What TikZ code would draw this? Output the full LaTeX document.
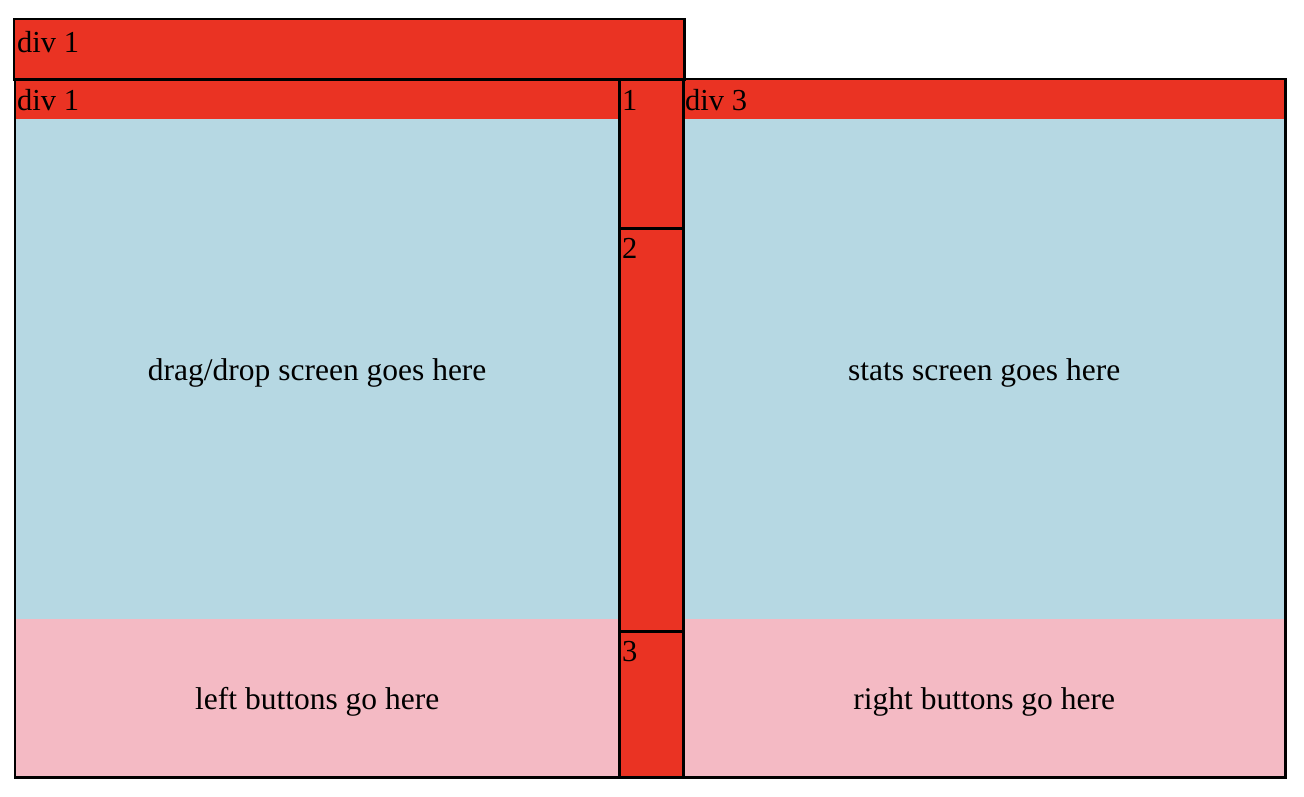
\documentclass[tikz,border=0pt]{standalone}
\usepackage{fontspec}
\setmainfont{Liberation Serif}
\usetikzlibrary{positioning, calc}
\definecolor{Red} {HTML}{EA3323}
\definecolor{Sky} {HTML}{B6D8E3}
\definecolor{Rose}{HTML}{F4BAC4}
\tikzset{
  pane/.style={draw=none, inner sep=0pt, anchor=north west, text depth=0pt,
               font=\fontsize{31.5}{36}\selectfont},
  edge/.style={draw=black, line width=2.8pt},
  lbl/.style={inner sep=0pt, anchor=base west, font=\fontsize{30.5}{35}\selectfont}
}

\begin{document}
\begin{tikzpicture}[x=1pt, y=-1pt]
  \useasboundingbox (0,0) rectangle (1304,796);
  % top bar
  \node[pane, fill=Red, minimum width=670, minimum height=60] (top) at (14,19) {};
  % left column
  \node[pane, fill=Red,  minimum width=604, minimum height=40]  (lhead) at (15,79)  {};
  \node[pane, fill=Sky,  minimum width=604, minimum height=500] (lscr)  at (15,119) {drag/drop screen goes here};
  \node[pane, fill=Rose, minimum width=604, minimum height=158] (lbtn)  at (15,619) {left buttons go here};
  % middle strip
  \node[pane, fill=Red, minimum width=64, minimum height=149] (c1) at (619,79)  {};
  \node[pane, fill=Red, minimum width=64, minimum height=403] (c2) at (619,228) {};
  \node[pane, fill=Red, minimum width=64, minimum height=146] (c3) at (619,631) {};
  % right column
  \node[pane, fill=Red,  minimum width=602, minimum height=40]  (rhead) at (683,79)  {};
  \node[pane, fill=Sky,  minimum width=602, minimum height=500] (rscr)  at (683,119) {stats screen goes here};
  \node[pane, fill=Rose, minimum width=602, minimum height=158] (rbtn)  at (683,619) {right buttons go here};

  % borders
  \draw[edge] (top.north west) rectangle (top.south east);
  \draw[edge] (lhead.north west) rectangle (lbtn.south east);
  \draw[edge] (rhead.north west) rectangle (rbtn.south east);
  \draw[edge] (c1.north west) rectangle (c1.south east);
  \draw[edge] (c2.north west) rectangle (c2.south east);
  \draw[edge] (c3.north west) rectangle (c3.south east);

  % labels
  \node[lbl] (t1) at ($(top.north west)+(3,33)$)   {div 1};
  \node[lbl] (l1) at ($(lhead.north west)+(2,31)$) {div 1};
  \node[lbl] (r3) at ($(rhead.north west)+(2,31)$) {div 3};
  \node[lbl] (n1) at ($(c1.north west)+(3,31)$) {1};
  \node[lbl] (n2) at ($(c2.north west)+(3,30)$) {2};
  \node[lbl] (n3) at ($(c3.north west)+(3,30)$) {3};
\end{tikzpicture}
\end{document}
